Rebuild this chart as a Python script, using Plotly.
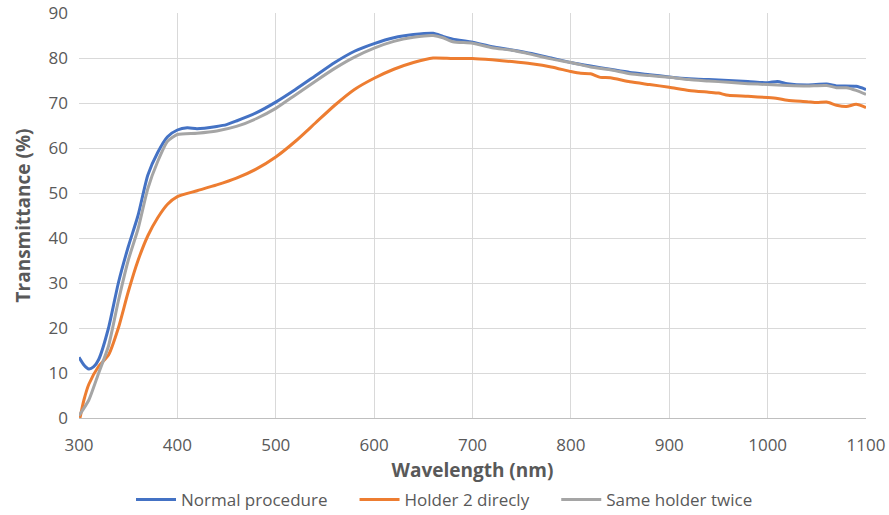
import plotly.graph_objects as go

wl_blue = [300, 305, 310, 315, 320, 330, 340, 350, 360, 370, 380, 390, 400, 410, 420, 440, 450, 460, 480, 500, 520, 540, 560, 580, 600, 620, 640, 660, 670, 680, 700, 720, 740, 760, 780, 800, 820, 840, 860, 880, 900, 920, 940, 960, 980, 1000, 1010, 1020, 1040, 1060, 1070, 1090, 1100]
normal = [13.5, 11.8, 10.9, 11.4, 13, 20, 30, 38, 45, 54, 59, 62.5, 64, 64.5, 64.3, 64.8, 65.2, 66, 67.8, 70.2, 73, 76, 79, 81.5, 83.2, 84.5, 85.2, 85.5, 84.8, 84.2, 83.5, 82.5, 81.8, 81, 80, 79, 78.2, 77.5, 76.8, 76.3, 75.8, 75.4, 75.2, 75, 74.8, 74.5, 74.8, 74.3, 74, 74.2, 73.8, 73.7, 73]

wl_orange = [301, 305, 310, 320, 330, 340, 350, 360, 370, 380, 390, 400, 420, 440, 460, 480, 500, 520, 540, 560, 580, 600, 620, 640, 660, 680, 700, 720, 740, 760, 780, 800, 810, 820, 830, 840, 860, 880, 900, 920, 940, 950, 960, 980, 1000, 1010, 1020, 1040, 1050, 1060, 1070, 1080, 1090, 1100]
holder2 = [0, 4, 7.5, 11.5, 14, 20, 28, 35, 40.5, 44.5, 47.5, 49.2, 50.5, 51.8, 53.3, 55.3, 58, 61.5, 65.5, 69.5, 73, 75.5, 77.5, 79, 80, 79.9, 79.9, 79.6, 79.2, 78.7, 78, 77, 76.6, 76.5, 75.7, 75.6, 74.7, 74.1, 73.5, 72.8, 72.4, 72.2, 71.7, 71.5, 71.2, 71, 70.6, 70.3, 70.1, 70.2, 69.5, 69.2, 69.7, 69]

wl_gray = [300, 310, 320, 330, 340, 350, 360, 370, 380, 390, 400, 420, 440, 460, 480, 500, 520, 540, 560, 580, 600, 620, 640, 660, 670, 680, 700, 720, 740, 760, 780, 800, 820, 840, 860, 880, 900, 920, 940, 960, 980, 1000, 1020, 1040, 1060, 1070, 1080, 1090, 1100]
same = [0.5, 4, 10, 16, 26, 35, 42, 51, 57, 61.5, 63, 63.3, 63.8, 64.8, 66.5, 68.8, 71.8, 74.8, 77.7, 80.2, 82.2, 83.7, 84.6, 85, 84.5, 83.6, 83.3, 82.3, 81.7, 80.8, 79.8, 79, 78, 77.4, 76.5, 76.1, 75.7, 75.2, 74.9, 74.6, 74.3, 74.1, 73.9, 73.8, 73.9, 73.4, 73.4, 72.8, 71.9]

x_ticks = [300, 400, 500, 600, 700, 800, 900, 1000, 1100]
y_ticks = [0, 10, 20, 30, 40, 50, 60, 70, 80, 90]

PAD = "\u00a0" * 5
FONT = "Open Sans"
fig = go.Figure()
fig.add_trace(go.Scatter(x=wl_blue, y=normal, mode="lines", name="Normal procedure" + PAD,
                         line=dict(color="#4472C4", width=3, shape="spline", smoothing=0.6)))
fig.add_trace(go.Scatter(x=wl_orange, y=holder2, mode="lines", name="Holder 2 direcly" + PAD,
                         line=dict(color="#ED7D31", width=3, shape="spline", smoothing=0.6)))
fig.add_trace(go.Scatter(x=wl_gray, y=same, mode="lines", name="Same holder twice",
                         line=dict(color="#A5A5A5", width=3, shape="spline", smoothing=0.6)))

fig.update_layout(
    width=889, height=515,
    margin=dict(l=79, r=23, t=13, b=97, autoexpand=False),
    paper_bgcolor="white", plot_bgcolor="white",
    font=dict(family=FONT, color="#595959", size=16),
    legend=dict(orientation="h", xref="container", x=0.5, xanchor="center",
                yref="paper", y=-0.2025, yanchor="middle",
                font=dict(size=17, color="#595959"), itemwidth=40, tracegroupgap=0),
    xaxis=dict(range=[300, 1100], tickvals=x_ticks, showgrid=True, gridcolor="#D9D9D9",
               gridwidth=1, zeroline=False, showline=True, linecolor="#BFBFBF", linewidth=1,
               ticks="", ticklabelstandoff=12, tickfont=dict(size=17, color="#595959"),
               automargin=False,
               title=dict(text="<b>Wavelength (nm)</b>", font=dict(size=19, color="#595959"), standoff=8)),
    yaxis=dict(range=[0, 90], tickvals=y_ticks, showgrid=True, gridcolor="#D9D9D9",
               gridwidth=1, zeroline=False, showline=False, ticks="", ticklabelstandoff=10,
               tickfont=dict(size=17, color="#595959"), automargin=False,
               title=dict(text="<b>Transmittance (%)</b>", font=dict(size=19, color="#595959"), standoff=12)),
)
fig.write_html("out.html")
